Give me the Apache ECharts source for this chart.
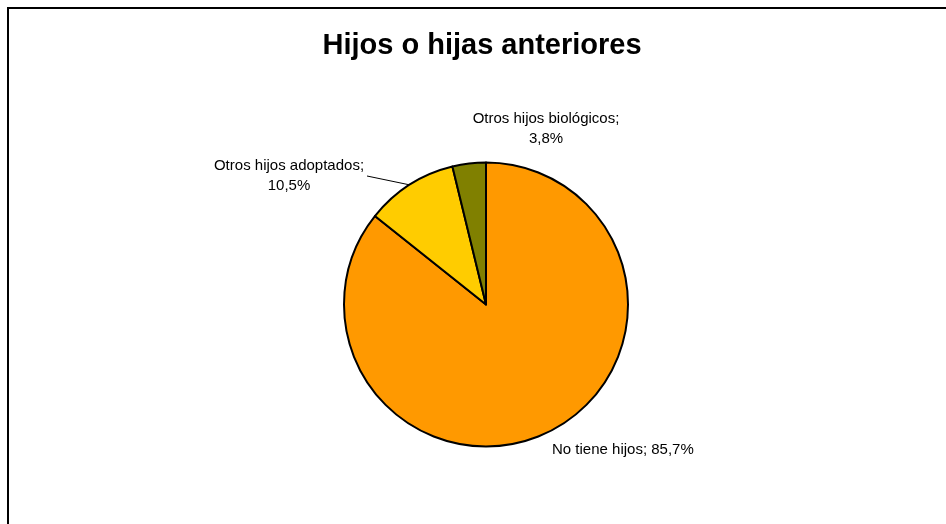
<!DOCTYPE html>
<html>
<head>
<meta charset="utf-8">
<script src="https://cdn.jsdelivr.net/npm/echarts@6/dist/echarts.min.js"></script>
<style>
html,body{margin:0;padding:0;background:#fff;}
#c{width:946px;height:524px;}
</style>
</head>
<body>
<div id="c"></div>
<script>
var titleText = 'Hijos o hijas anteriores';
var categories = ['No tiene hijos', 'Otros hijos adoptados', 'Otros hijos biológicos'];
var values = [85.7, 10.5, 3.8];
var colors = ['#FF9900', '#FFCC00', '#808000'];
var twoLineLabel = [false, true, true];

function fmtPct(v) { return v.toFixed(1).replace('.', ',') + '%'; }

// label placement (text centre / edge), layout only
var labelPlace = [
  { x: 552, y: 450, align: 'left' },
  { x: 289, y: 175.5, align: 'center' },
  { x: 546, y: 128.5, align: 'center' }
];

var chart = echarts.init(document.getElementById('c'), null, { renderer: 'canvas' });
chart.setOption({
  animation: false,
  backgroundColor: '#fff',
  title: {
    text: titleText,
    left: 477,
    textAlign: 'center',
    top: 26,
    textStyle: { fontFamily: 'Liberation Sans, Arial, sans-serif', fontWeight: 'bold', fontSize: 29, color: '#000' }
  },
  graphic: [{
    type: 'rect',
    shape: { x: 8, y: 8, width: 1000, height: 1000 },
    style: { fill: 'none', stroke: '#000', lineWidth: 2 },
    silent: true,
    z: 100
  }],
  series: [{
    type: 'pie',
    center: [486, 304.5],
    radius: 142,
    startAngle: 90,
    clockwise: true,
    silent: true,
    itemStyle: { borderColor: '#000', borderWidth: 2 },
    data: categories.map(function (n, i) {
      return {
        name: n,
        value: values[i],
        itemStyle: { color: colors[i] },
        labelLine: { show: i === 1 }
      };
    }),
    label: {
      show: true,
      position: 'outside',
      fontFamily: 'Liberation Sans, Arial, sans-serif',
      fontSize: 15,
      lineHeight: 20,
      color: '#000',
      align: 'center',
      formatter: function (p) {
        return p.name + ';' + (twoLineLabel[p.dataIndex] ? '\n' : ' ') + fmtPct(p.value);
      }
    },
    labelLine: {
      show: true,
      length: 10,
      length2: 10,
      lineStyle: { color: '#000', width: 1 }
    },
    labelLayout: function (params) {
      var i = params.dataIndex;
      var pl = labelPlace[i];
      var out = { x: pl.x, y: pl.y, align: pl.align, verticalAlign: 'middle' };
      if (i === 1 && params.labelLinePoints && params.labelLinePoints.length) {
        var a = params.labelLinePoints[0];
        out.labelLinePoints = [[a[0], a[1]], [367, 176]];
      }
      return out;
    }
  }]
});
</script>
</body>
</html>
